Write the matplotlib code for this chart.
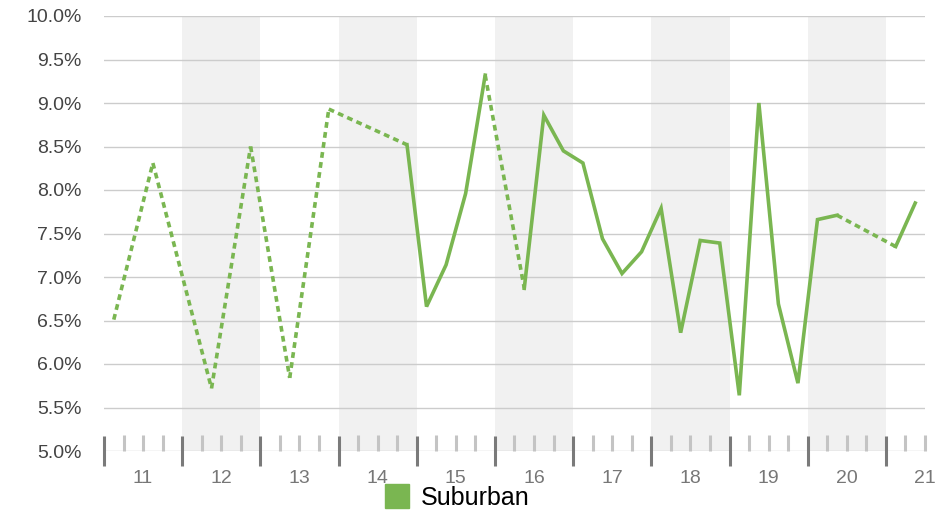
import numpy as np
import matplotlib
matplotlib.use('Agg')
import matplotlib.pyplot as plt
from matplotlib.lines import Line2D

plt.rcParams['font.family'] = ['Liberation Sans', 'DejaVu Sans']

# quarterly readings, NaN where there was no reading
x_start = 10.625
x_step = 0.25
rate = [6.51, np.nan, 8.31, np.nan, np.nan, 5.72, np.nan, 8.50, np.nan, 5.84,
        np.nan, 8.93, np.nan, np.nan, np.nan, 8.52, 6.66, 7.14, 7.96, 9.32,
        np.nan, 6.87, 8.86, 8.45, 8.31, 7.44, 7.04, 7.29, 7.79, 6.36,
        7.42, 7.39, 5.64, 9.00, 6.69, 5.78, 7.66, 7.71, np.nan, np.nan,
        7.35, 7.85]
years = [11, 12, 13, 14, 15, 16, 17, 18, 19, 20, 21]
y_ticks = [5.0, 5.5, 6.0, 6.5, 7.0, 7.5, 8.0, 8.5, 9.0, 9.5, 10.0]
series_name = 'Suburban'

GREEN = '#7ab651'

rate = np.array(rate)
xs = x_start + x_step * np.arange(len(rate))

fig = plt.figure(figsize=(9.53, 5.13), dpi=100)
ax = fig.add_axes([104 / 953, 1 - 451 / 513, 821 / 953, 435 / 513])
ax.set_xlim(10.5, 21.0)
ax.set_ylim(5.0, 10.0)

# alternating year bands
for i, yr in enumerate(years[:-1]):
    if i % 2 == 1:
        ax.axvspan(yr - 0.5, yr + 0.5, color='#f1f1f1', lw=0, zorder=0)

for y in y_ticks:
    ax.axhline(y, color='#cccccc', lw=1.0, zorder=1)

# solid where readings are consecutive
ax.plot(xs, rate, color=GREEN, lw=2.6, solid_joinstyle='miter', zorder=3)

# dotted bridges across missing readings
valid = np.where(~np.isnan(rate))[0]
for a, b in zip(valid[:-1], valid[1:]):
    if b - a > 1:
        ax.plot([xs[a], xs[b]], [rate[a], rate[b]], color=GREEN, lw=2.6,
                dashes=(1.6, 1.2), zorder=3)

for s in ax.spines.values():
    s.set_visible(False)

ax.set_yticks(y_ticks)
ax.set_yticklabels([f'{v:.1f}%' for v in y_ticks])
ax.tick_params(axis='y', length=0, pad=16, labelsize=14, labelcolor='#444444')

bounds = [yr + 0.5 for yr in years[:-1]]
ax.set_xticks([years[0] - 0.5] + bounds)
ax.set_xticklabels([])
ax.set_xticks(np.arange(10.75, 21.01, 0.25), minor=True)
ax.tick_params(axis='x', which='major', direction='inout', length=22,
               width=2.2, color='#7a7a7a')
ax.tick_params(axis='x', which='minor', direction='in', length=11.5,
               width=2.2, color='#c4c4c4')

sec = ax.secondary_xaxis('bottom')
sec.set_xticks(years)
sec.set_xticklabels([str(y) for y in years])
sec.tick_params(length=0, pad=14, labelsize=14, labelcolor='#777777')
sec.spines['bottom'].set_visible(False)

handle = Line2D([], [], marker='s', color='none', markerfacecolor=GREEN,
                markeredgecolor=GREEN, markersize=17)
fig.legend([handle], [series_name], loc='center', bbox_to_anchor=(0.48, 0.03),
           frameon=False, fontsize=18, handlelength=1.0, handletextpad=0.45)

fig.savefig('out.png', dpi=100)
